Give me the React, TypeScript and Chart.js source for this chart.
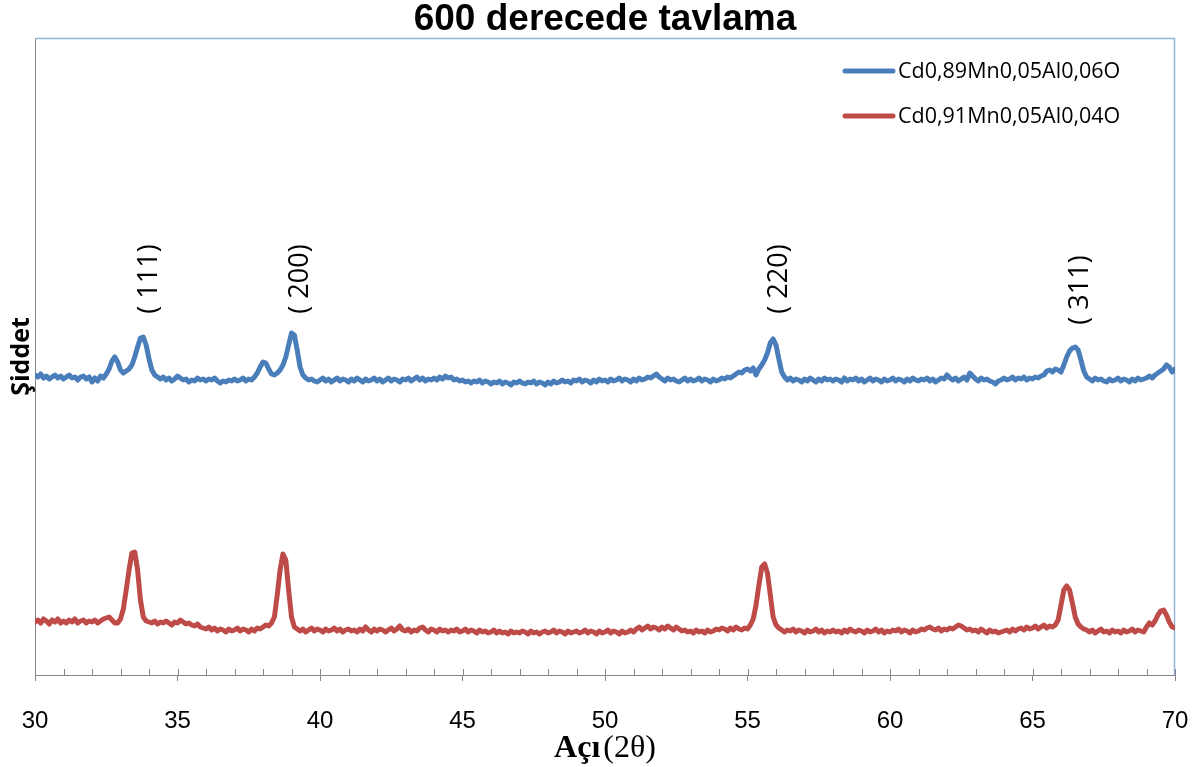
import { useEffect, useRef } from "react";
import { Chart, registerables } from "chart.js";

Chart.register(...registerables);

const TITLE = "600 derecede tavlama";
const Y_TITLE = "Şiddet";
const X_TITLE_BOLD = "Açı";
const X_TITLE_REST = "(2θ)";

const ANGLE_START = 30;
const ANGLE_STEP = 0.1;
const X_MIN = 30;
const X_MAX = 70;
const X_MAJOR_STEP = 5;
const X_MINOR_STEP = 1;
const Y_MIN = 0;
const Y_MAX = 637;

const SERIES_NAMES = ["Cd0,89Mn0,05Al0,06O", "Cd0,91Mn0,05Al0,04O"];
const SERIES_COLORS = ["#4a7ebb", "#be4b48"];

// intensity, 2θ = 30.0 ... 70.0 step 0.1
const BLUE_INTENSITY = [
  300,298,301,297,299,296,298,300,297,299,
  296,298,300,297,298,295,298,299,296,298,
  293,297,294,299,297,301,306,314,318,313,
  305,302,304,306,310,318,328,337,338,330,
  316,305,300,298,296,298,295,297,294,296,
  299,297,295,296,293,295,294,297,295,296,
  294,296,295,297,294,292,294,293,295,294,
  296,294,295,297,294,296,295,298,302,308,
  313,312,306,301,300,302,305,310,318,330,
  342,340,325,308,300,297,295,296,294,293,
  295,297,294,296,293,295,297,294,296,295,
  293,296,294,297,295,293,296,294,295,297,
  294,296,293,295,297,294,296,295,293,296,
  295,297,294,296,298,295,297,294,296,295,
  297,295,298,296,299,297,298,295,296,294,
  295,293,294,292,294,293,295,292,294,293,
  291,293,292,294,291,293,292,290,293,292,
  294,292,291,293,292,294,291,293,292,290,
  293,291,294,292,293,295,293,294,292,295,
  294,296,293,295,294,292,295,293,296,294,
  295,293,296,294,295,297,294,296,295,293,
  296,294,297,295,296,298,297,299,301,298,
  296,294,297,295,296,294,293,295,297,294,
  296,294,295,297,294,296,295,293,296,294,
  295,297,296,298,297,299,301,303,302,305,
  306,304,307,300,306,310,315,322,332,336,
  330,316,303,298,295,297,294,296,295,293,
  296,294,297,295,293,296,294,297,295,296,
  294,296,295,293,297,294,296,295,297,294,
  296,293,295,297,294,296,295,293,296,294,
  295,297,294,296,295,293,296,294,297,295,
  294,296,295,297,294,296,293,295,297,296,
  300,297,295,297,294,296,298,295,302,299,
  296,294,297,295,296,294,293,291,294,295,
  297,295,296,298,295,297,296,298,295,297,
  296,298,297,299,300,304,305,303,306,305,
  303,310,318,324,327,328,325,315,304,298,
  296,294,297,295,296,294,293,296,294,295,
  297,294,296,295,293,296,294,297,295,296,
  297,299,297,300,302,304,306,310,308,303,
  306,
];

const RED_INTENSITY = [
  53,55,52,56,54,51,55,53,56,52,
  54,52,55,53,56,52,54,55,52,54,
  53,55,52,54,56,57,58,55,52,52,
  56,66,85,105,122,123,105,75,58,54,
  53,52,54,51,53,52,54,52,50,53,
  52,55,53,51,52,50,49,51,48,47,
  46,48,45,47,44,46,45,43,46,44,
  45,47,44,46,45,43,46,44,47,46,
  48,50,49,52,58,80,105,121,115,85,
  58,48,46,44,46,43,45,47,44,46,
  45,43,46,44,45,47,44,46,43,45,
  46,44,45,43,46,44,48,45,43,46,
  44,46,45,43,45,47,44,46,49,45,
  44,46,43,45,44,47,48,45,43,46,
  45,43,46,44,45,43,45,44,46,43,
  44,46,43,45,44,42,45,43,44,42,
  43,45,42,44,42,43,41,44,42,43,
  42,44,43,41,44,42,43,41,43,44,
  42,43,45,42,44,43,41,44,42,43,
  44,42,43,45,42,44,43,41,44,42,
  43,45,42,44,43,41,44,42,43,45,
  43,46,48,45,47,49,46,48,47,45,
  48,46,49,47,45,48,46,44,45,43,
  44,42,45,43,44,42,45,43,44,46,
  45,47,46,44,47,45,48,46,45,47,
  46,50,56,70,90,108,111,102,80,58,
  50,47,45,43,45,44,46,43,45,44,
  42,45,43,44,46,43,45,42,44,43,
  45,43,44,42,45,43,46,44,43,45,
  44,42,45,43,44,46,43,45,42,44,
  43,45,44,46,43,45,44,42,45,43,
  44,46,45,47,48,46,45,47,44,46,
  45,47,46,48,50,49,47,45,46,44,
  45,43,46,44,42,45,43,44,42,43,
  44,45,43,46,44,46,47,45,48,46,
  47,49,46,48,50,47,49,48,50,55,
  70,85,89,85,72,58,51,48,46,45,
  43,45,42,44,46,43,44,42,45,43,
  44,42,45,43,44,46,43,45,44,43,
  48,52,50,54,60,64,65,60,53,48,
  47,
];

const PEAK_LABELS = ["( 111)", "( 200)", "( 220)", "( 311)"];
const PEAK_LABEL_ANGLES = [34.02, 39.3, 56.1, 66.67];
const PEAK_LABEL_LEVELS = [396, 396, 396, 385];

const SANS = "'Open Sans', 'Liberation Sans', sans-serif";
const TICK_FONT = "'Liberation Sans', sans-serif";
const SERIF = "'Liberation Serif', 'DejaVu Serif', serif";

const toPoints = (arr: number[]) =>
  arr.map((y, i) => ({ x: Math.round((ANGLE_START + i * ANGLE_STEP) * 10) / 10, y }));

const decorPlugin = {
  id: "decor",
  beforeDatasetsDraw(chart: any) {
    const { ctx, chartArea: a } = chart;
    ctx.save();
    ctx.strokeStyle = "#95b3d7";
    ctx.lineWidth = 1.5;
    ctx.beginPath();
    ctx.moveTo(a.left, a.top + 0.5);
    ctx.lineTo(a.right - 0.5, a.top + 0.5);
    ctx.lineTo(a.right - 0.5, a.bottom);
    ctx.stroke();
    ctx.restore();
  },
  afterDraw(chart: any) {
    const { ctx, chartArea: a, scales } = chart;
    const xs = scales.x;
    const ys = scales.y;
    ctx.save();
    // inside ticks (minor + major)
    ctx.strokeStyle = "#868686";
    ctx.lineWidth = 1;
    for (let v = X_MIN; v <= X_MAX + 1e-9; v += X_MINOR_STEP) {
      const px = Math.round(xs.getPixelForValue(v)) + 0.5;
      ctx.beginPath();
      ctx.moveTo(px, a.bottom);
      ctx.lineTo(px, a.bottom - 6);
      ctx.stroke();
    }
    // peak labels
    ctx.fillStyle = "#000";
    ctx.font = `27px ${SANS}`;
    ctx.textAlign = "center";
    ctx.textBaseline = "middle";
    PEAK_LABELS.forEach((t, i) => {
      const px = xs.getPixelForValue(PEAK_LABEL_ANGLES[i]);
      const py = ys.getPixelForValue(PEAK_LABEL_LEVELS[i]);
      ctx.save();
      ctx.translate(px, py);
      ctx.rotate(-Math.PI / 2);
      ctx.fillText(t, 0, 0);
      ctx.restore();
    });
    // legend
    const lx = a.right - 330;
    const rows = [a.top + 33, a.top + 78];
    ctx.textAlign = "left";
    ctx.textBaseline = "middle";
    ctx.font = `21.5px ${SANS}`;
    SERIES_NAMES.forEach((name, i) => {
      ctx.strokeStyle = SERIES_COLORS[i];
      ctx.lineWidth = 5;
      ctx.lineCap = "round";
      ctx.beginPath();
      ctx.moveTo(lx, rows[i]);
      ctx.lineTo(lx + 48, rows[i]);
      ctx.stroke();
      ctx.fillStyle = "#000";
      ctx.fillText(name, lx + 53, rows[i] + 1);
    });
    // x axis title with mixed weight
    const boldFont = `bold 32px ${SERIF}`;
    const regFont = `32px ${SERIF}`;
    ctx.font = boldFont;
    const w1 = ctx.measureText(X_TITLE_BOLD).width;
    ctx.font = regFont;
    const w2 = ctx.measureText(X_TITLE_REST).width;
    const gap = 3;
    const cx = (a.left + a.right) / 2;
    const x0 = cx - (w1 + gap + w2) / 2;
    const by = a.bottom + 82;
    ctx.textBaseline = "alphabetic";
    ctx.fillStyle = "#000";
    ctx.font = boldFont;
    ctx.fillText(X_TITLE_BOLD, x0, by);
    ctx.font = regFont;
    ctx.fillText(X_TITLE_REST, x0 + w1 + gap, by);
    ctx.restore();
  },
};

export default function App() {
  const ref = useRef<HTMLCanvasElement | null>(null);
  useEffect(() => {
    if (!ref.current) return;
    const chart = new Chart(ref.current, {
      type: "line",
      data: {
        datasets: [
          {
            label: SERIES_NAMES[0],
            data: toPoints(BLUE_INTENSITY),
            borderColor: SERIES_COLORS[0],
            backgroundColor: SERIES_COLORS[0],
            borderWidth: 5,
            pointRadius: 0,
            tension: 0,
            borderJoinStyle: "round",
            borderCapStyle: "round",
          },
          {
            label: SERIES_NAMES[1],
            data: toPoints(RED_INTENSITY),
            borderColor: SERIES_COLORS[1],
            backgroundColor: SERIES_COLORS[1],
            borderWidth: 5,
            pointRadius: 0,
            tension: 0,
            borderJoinStyle: "round",
            borderCapStyle: "round",
          },
        ],
      },
      options: {
        responsive: false,
        animation: false,
        devicePixelRatio: 1,
        layout: { padding: { left: 0, right: 23, top: 0, bottom: 0 } },
        plugins: {
          legend: { display: false },
          tooltip: { enabled: false },
          title: {
            display: true,
            text: TITLE,
            color: "#000",
            fullSize: false,
            font: { family: "'Liberation Sans', sans-serif", size: 37, weight: "bold", lineHeight: 1 },
            padding: { top: 1, bottom: 0 },
          },
        },
        scales: {
          x: {
            type: "linear",
            min: X_MIN,
            max: X_MAX,
            ticks: {
              stepSize: X_MAJOR_STEP,
              color: "#000",
              font: { family: TICK_FONT, size: 24 },
              padding: 26,
              maxRotation: 0,
              autoSkip: false,
            },
            grid: {
              display: true,
              drawOnChartArea: false,
              drawTicks: true,
              tickLength: 6,
              color: "#868686",
            },
            border: { display: true, color: "#868686", width: 1 },
            afterFit: (s: any) => {
              s.height = 92;
              s.paddingLeft = 0;
              s.paddingRight = 0;
            },
          },
          y: {
            type: "linear",
            min: Y_MIN,
            max: Y_MAX,
            ticks: { display: false },
            grid: { display: false },
            border: { display: true, color: "#868686", width: 1 },
            title: {
              display: true,
              text: Y_TITLE,
              color: "#000",
              font: { family: SANS, size: 25, weight: "bold", lineHeight: 1.2 },
              padding: { top: 7, bottom: 0 },
            },
            afterFit: (s: any) => {
              s.width = 35;
              s.paddingTop = 0;
              s.paddingBottom = 0;
            },
          },
        },
      },
      plugins: [decorPlugin],
    });
    return () => chart.destroy();
  }, []);
  return (
    <div style={{ position: "absolute", left: 0, top: 0, width: 1198, height: 767, background: "#fff" }}>
      <canvas ref={ref} width={1198} height={767} style={{ display: "block" }} />
    </div>
  );
}
